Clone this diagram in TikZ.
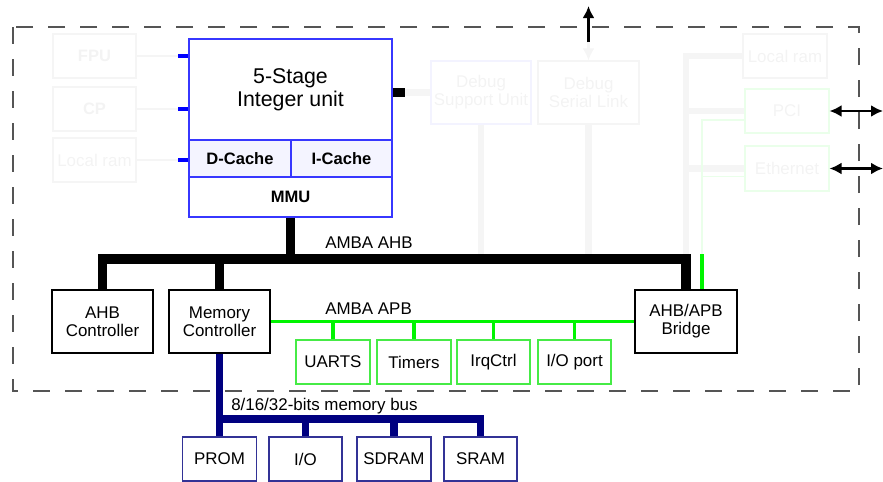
\documentclass[tikz,border=0pt]{standalone}
\usepackage{fontspec}
\setmainfont{Liberation Sans}
\usetikzlibrary{arrows.meta}
\definecolor{iublue}{RGB}{55,55,255}
\definecolor{cachefill}{RGB}{244,244,255}
\definecolor{apbgreen}{RGB}{0,245,0}
\definecolor{boxgreen}{RGB}{70,235,70}
\definecolor{memnavy}{RGB}{0,0,128}
\definecolor{boxnavy}{RGB}{50,50,150}
\definecolor{faint}{RGB}{245,245,245}
\definecolor{fainttext}{RGB}{243,243,243}
\definecolor{faintblue}{RGB}{243,243,255}
\definecolor{faintgreen}{RGB}{234,255,234}
\definecolor{dashgray}{RGB}{85,85,85}
\tikzset{
  sz/.style 2 args={minimum width=#1*0.75pt,minimum height=#2*0.75pt},
  bld/.style={font=\fontsize{12.4}{13.5}\selectfont\bfseries},
  blk/.style={draw,line width=0.8pt},
  iubox/.style={draw=iublue,line width=0.8pt},
  apbbox/.style={draw=boxgreen,line width=0.8pt},
  membox/.style={draw=boxnavy,line width=0.8pt},
  ghost/.style={draw=faint,line width=0.8pt,text=fainttext},
  ahb/.style={line width=6.8pt},
  apb/.style={draw=apbgreen,line width=2.3pt},
  mem/.style={draw=memnavy,line width=5.3pt},
  fbus/.style={draw=faint,line width=5pt},
  fline/.style={draw=faint,line width=2pt},
  fgreen/.style={draw=faintgreen,line width=0.8pt},
  bstub/.style={draw=blue,line width=2.3pt},
  arr/.style={line width=2.2pt}
}
\begin{document}
\begin{tikzpicture}[x=0.75pt,y=-0.75pt,line join=miter,>={Latex[length=9pt,width=9pt]},
  every node/.style={font=\fontsize{12.7}{13.5}\selectfont,align=center,inner sep=0pt}]
  \useasboundingbox (0,0) rectangle (883,482);
  \draw[dashgray,line width=0.8pt,dash pattern=on 12.5pt off 11.5pt] (13,27) rectangle (859,391);

  % faded units
  \node[ghost,bld,sz={83}{44}] (fpu) at (94.5,56) {FPU};
  \node[ghost,bld,sz={83}{44}] (cp) at (94.5,109) {CP};
  \node[ghost,sz={83}{44}] (lram) at (94.5,160) {Local ram};
  \node[ghost,draw=faintblue,sz={100}{63}] (dsu) at (481,92.5) {Debug\\Support Unit};
  \node[ghost,sz={101}{63}] (dsl) at (588.5,92.5) {Debug\\Serial Link};
  \node[ghost,sz={84}{44}] (lram2) at (785,56) {Local ram};
  \node[ghost,draw=faintgreen,sz={84}{44}] (pci) at (787,111) {PCI};
  \node[ghost,draw=faintgreen,sz={84}{45}] (eth) at (787,168.5) {Ethernet};

  % integer unit
  \node[iubox,sz={203}{101},font=\fontsize{16}{17.3}\selectfont] (iu) at (290.5,89.5) {5-Stage\\Integer unit};
  \node[iubox,bld,fill=cachefill,sz={102}{37}] (dc) at (240,158.5) {D-Cache};
  \node[iubox,bld,fill=cachefill,sz={101}{37}] (ic) at (341.5,158.5) {I-Cache};
  \node[iubox,bld,sz={203}{40}] (mmu) at (290.5,197) {MMU};

  \node[blk,sz={101}{63}] (ahbc) at (102.5,321.5) {AHB\\Controller};
  \node[blk,sz={101}{63}] (memc) at (219.5,321.5) {Memory\\Controller};
  \node[blk,sz={102}{63}] (bridge) at (686,321.5) {AHB/APB\\Bridge};

  \node[apbbox,sz={74}{44}] (uarts) at (333,362) {UARTS};
  \node[apbbox,sz={74}{44}] (timers) at (414,362) {Timers};
  \node[apbbox,sz={73}{44}] (irq) at (493.5,362) {IrqCtrl};
  \node[apbbox,sz={73}{44}] (iop) at (574.5,362) {I/O port};

  \node[membox,sz={74}{44}] (prom) at (219.5,459) {PROM};
  \node[membox,sz={73}{44}] (io) at (305.5,459) {I/O};
  \node[membox,sz={74}{44}] (sdram) at (394,459) {SDRAM};
  \node[membox,sz={73}{44}] (sram) at (480.5,459) {SRAM};

  \coordinate (s1) at (178,56);
  \coordinate (s2) at (178,109);
  \coordinate (s3) at (178,160);
  \coordinate (k) at (405,92.5);
  \coordinate (ahbe) at (686,259);
  \coordinate (gt) at (702,120);
  \coordinate (gb) at (702,254);
  \coordinate (upb) at (588.5,42);
  \coordinate (up) at (588.5,6);
  \coordinate (pcix) at (883,111);
  \coordinate (ethx) at (883,168.5);
  \coordinate (mb) at (480.5,419);

  % faded connections
  \draw[fline] (fpu) -- (s1);
  \draw[fline] (cp) -- (s2);
  \draw[fline] (lram) -- (s3);
  \draw[fbus] (k) -- (dsu.west |- k);
  \draw[fbus] (dsu.south) -- (dsu.south |- ahbe);
  \draw[fbus] (dsl.south) -- (dsl.south |- ahbe);
  \draw[fline,->] (upb) -- (dsl.north);
  \draw[fbus] (lram2.west) -| (ahbe);
  \draw[fbus] (pci.west) -- (pci.west -| ahbe);
  \draw[fbus] (eth.west) -- (eth.west -| ahbe);
  \draw[fgreen] (gt -| pci.west) -- (gt) -- (gb);
  \draw[fgreen] ([yshift=-6pt]eth.west) -- ([yshift=-6pt]eth.west -| gt);

  \draw[bstub] (s1) -- (s1 -| iu.west);
  \draw[bstub] (s2) -- (s2 -| iu.west);
  \draw[bstub] (s3) -- (s3 -| iu.west);
  \draw[ahb] (iu.east |- k) -- (k);

  % AMBA AHB
  \draw[ahb] (ahbc.north) -- (ahbc.north |- ahbe) -- (ahbe) -- (bridge.north);
  \draw[ahb] (memc.north) -- (memc.north |- ahbe);
  \draw[ahb] (mmu.south) -- (mmu.south |- ahbe);
  \node[anchor=west] (ahbl) at (325,243) {AMBA AHB};

  % AMBA APB
  \draw[apb] (gb) -- (gb |- bridge.north);
  \draw[apb] (memc.east) -- (bridge.west);
  \foreach \n in {uarts,timers,irq,iop}
    \draw[apb] (\n.north) -- (\n.north |- memc.east);
  \node[anchor=west] (apbl) at (325,309) {AMBA APB};

  % memory bus
  \draw[mem] (memc.south) -- (prom.north);
  \draw[mem] (memc.south |- mb) -| (sram.north);
  \draw[mem] (io.north) -- (io.north |- mb);
  \draw[mem] (sdram.north) -- (sdram.north |- mb);
  \node[anchor=west] (mbl) at (231,406) {8/16/32-bits memory bus};

  \draw[arr,->] (upb) -- (up);
  \draw[arr,<->] (pci.east) -- (pcix);
  \draw[arr,<->] (eth.east) -- (ethx);
\end{tikzpicture}
\end{document}
